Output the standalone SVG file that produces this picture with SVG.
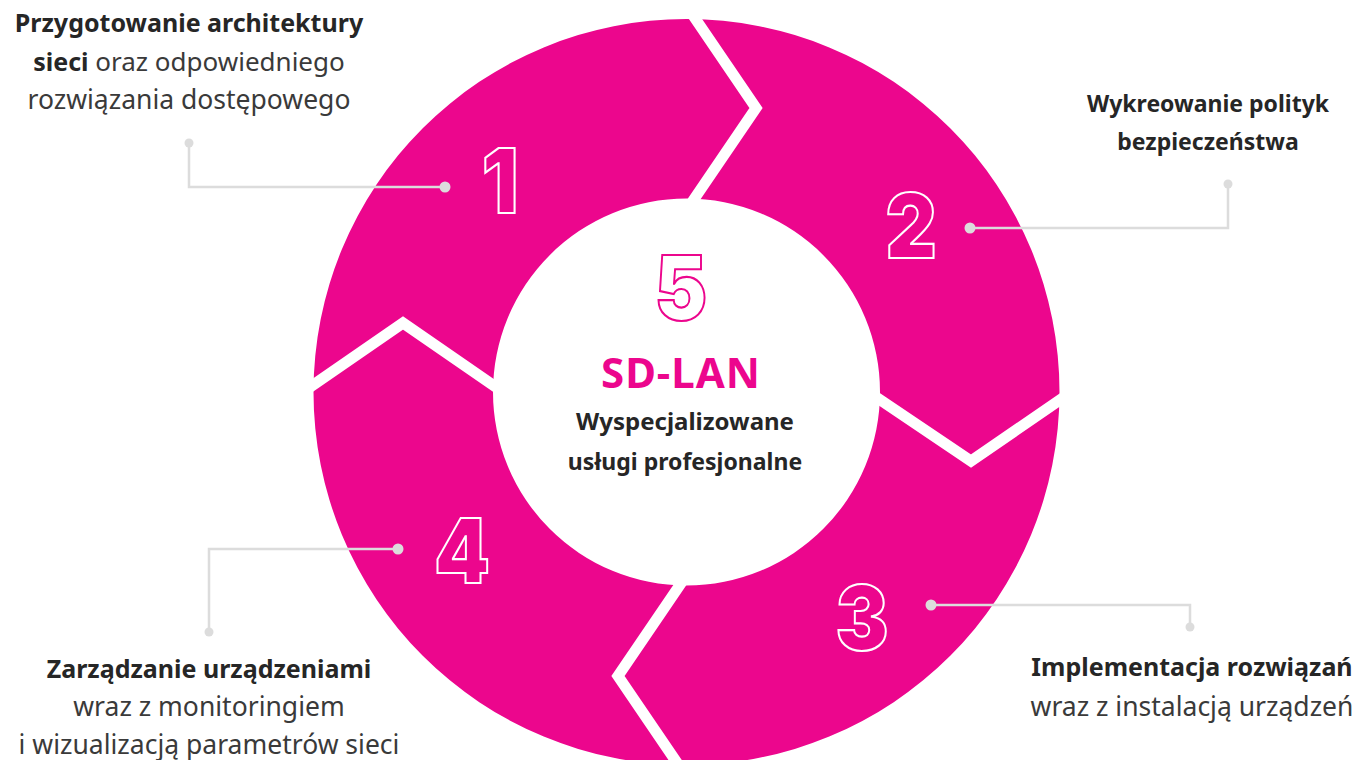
<svg xmlns="http://www.w3.org/2000/svg" width="1365" height="760" viewBox="0 0 1365 760">
<defs>
<style>
.ring{fill:#EC068D;}
.sep{fill:none;stroke:#fff;stroke-width:11;stroke-linejoin:miter;}
.lead{fill:none;stroke:#dcdcdc;stroke-width:2.5;}
.dot{fill:#dcdcdc;}
.num{font-family:Inter,"Roboto","Liberation Sans",sans-serif;font-weight:900;font-size:90px;fill:none;stroke:#fff;stroke-width:2.2;text-anchor:middle;}
.lbl{font-family:"Noto Sans","Liberation Sans",sans-serif;font-size:25px;fill:#3a3a3a;text-anchor:middle;}
.b{font-weight:bold;fill:#262626;}
</style>
</defs>
<rect width="1365" height="760" fill="#fff"/>
<g id="ring">
<path class="ring" fill-rule="evenodd" d="M313.5,392 a373,373 0 1,0 746,0 a373,373 0 1,0 -746,0 Z M493,392 a193.5,193.5 0 1,0 387,0 a193.5,193.5 0 1,0 -387,0 Z"/>
</g>
<g id="separators">
<polyline class="sep" points="688,8 756,108 688,208"/>
<polyline class="sep" points="303,392 403,323 503,392"/>
<polyline class="sep" points="870,393 971,461 1070,393"/>
<polyline class="sep" points="686,576 618,676 686,776"/>
</g>
<g id="connectors">
<polyline class="lead" points="189,143 189,187 445,187"/>
<circle class="dot" cx="189" cy="143" r="4.5"/><circle class="dot" cx="445" cy="187" r="5.5"/>
<polyline class="lead" points="970,228 1228,228 1228,184"/>
<circle class="dot" cx="970" cy="228" r="5.5"/><circle class="dot" cx="1228" cy="184" r="4.5"/>
<polyline class="lead" points="931,605 1190,605 1190,627"/>
<circle class="dot" cx="931" cy="605" r="5.5"/><circle class="dot" cx="1190" cy="627" r="4.5"/>
<polyline class="lead" points="398,549 209,549 209,632"/>
<circle class="dot" cx="398" cy="549" r="5.5"/><circle class="dot" cx="209" cy="632" r="4.5"/>
</g>
<g id="node1">
<text class="num" x="500" y="213" transform="translate(500 0) scale(0.9 1) translate(-500 0)">1</text>
<text class="lbl" x="189" y="32"><tspan class="b">Przygotowanie architektury</tspan></text>
<text class="lbl" x="189" y="71"><tspan class="b">sieci</tspan><tspan style="font-size:26px"> oraz odpowiedniego</tspan></text>
<text class="lbl" x="189" y="109" style="font-size:26.5px">rozwiązania dostępowego</text>
</g>
<g id="node2">
<text class="num" x="911" y="258" transform="translate(911 0) scale(0.88 1) translate(-911 0)">2</text>
<text class="lbl b" x="1208" y="112" style="font-size:23px">Wykreowanie polityk</text>
<text class="lbl b" x="1208" y="150" style="font-size:23px">bezpieczeństwa</text>
</g>
<g id="node3">
<text class="num" x="862" y="650" transform="translate(862 0) scale(0.88 1) translate(-862 0)">3</text>
<text class="lbl b" x="1192" y="676">Implementacja rozwiązań</text>
<text class="lbl" x="1192" y="716" style="font-size:26.5px">wraz z instalacją urządzeń</text>
</g>
<g id="node4">
<text class="num" x="462" y="583" transform="translate(462 0) scale(0.88 1) translate(-462 0)">4</text>
<text class="lbl b" x="209" y="678">Zarządzanie urządzeniami</text>
<text class="lbl" x="209" y="716" style="font-size:26.5px">wraz z monitoringiem</text>
<text class="lbl" x="209" y="754" style="font-size:26.5px">i wizualizacją parametrów sieci</text>
</g>
<g id="node5">
<text class="num" x="681" y="320" style="stroke:#EC068D" transform="translate(681 0) scale(0.88 1) translate(-681 0)">5</text>
<text x="681" y="388" style="font-family:'Noto Sans','Liberation Sans',sans-serif;font-weight:bold;font-size:42px;letter-spacing:1px;fill:#EC068D;text-anchor:middle">SD-LAN</text>
<text class="lbl b" x="685" y="430" style="font-size:24px">Wyspecjalizowane</text>
<text class="lbl b" x="685" y="470" style="font-size:23px">usługi profesjonalne</text>
</g>
</svg>
